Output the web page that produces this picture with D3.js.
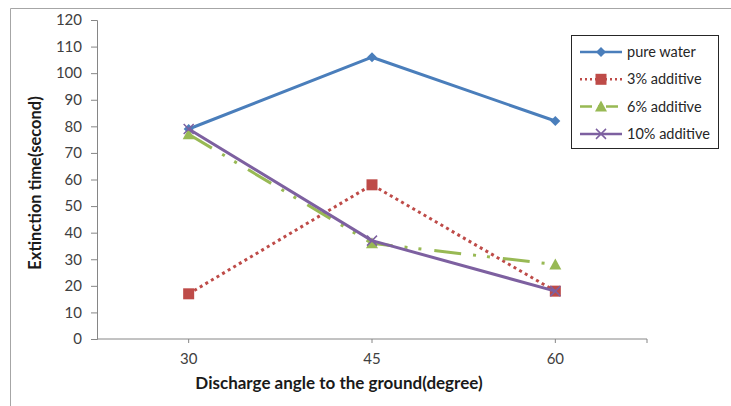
<!DOCTYPE html>
<html>
<head>
<meta charset="utf-8">
<title>Extinction time vs discharge angle</title>
<script src="https://d3js.org/d3.v7.min.js"></script>
<style>
  body { margin: 0; background: #fff; }
  svg text { font-family: Lato, "Open Sans", sans-serif; }
  .tick text { fill: #404040; font-size: 15px; }
</style>
</head>
<body>
<div id="chart"></div>
<script>
// data
const angles = ["30", "45", "60"];
const pureWater = [79, 106, 82];
const additive3 = [17, 58, 18];
const additive6 = [77, 36, 28];
const additive10 = [79, 37, 18];
const yTicks = d3.range(0, 121, 10);

const series = [
  {name: "pure water", values: pureWater, color: "#4a7ebb", dash: null, marker: "diamond"},
  {name: "3% additive", values: additive3, color: "#be4b48", dash: "3,3.5", marker: "square"},
  {name: "6% additive", values: additive6, color: "#98b954", dash: "27,12,3,11,3,13", marker: "triangle"},
  {name: "10% additive", values: additive10, color: "#7d60a0", dash: null, marker: "cross"}
];

const W = 731, H = 406;
const plot = {left: 97, right: 647, top: 20, bottom: 339};

const svg = d3.select("#chart").append("svg")
  .attr("width", W).attr("height", H);

// outer frame (only left and top edges visible)
svg.append("path")
  .attr("d", `M10.5,${H} V8.5 H${W}`)
  .attr("fill", "none").attr("stroke", "#a6a6a6").attr("stroke-width", 1);

const x = d3.scaleBand().domain(angles).range([plot.left, plot.right]);
const xc = d => x(d) + x.bandwidth() / 2;
const y = d3.scaleLinear().domain([0, 120]).range([plot.bottom, plot.top]);

// y axis
const yAxis = svg.append("g")
  .attr("transform", `translate(${plot.left},0)`)
  .call(d3.axisLeft(y).tickValues(yTicks).tickSize(6).tickPadding(9));
yAxis.selectAll(".domain, .tick line").attr("stroke", "#868686");

// x axis, ticks at category centres plus one at the end
const xg = svg.append("g").attr("transform", `translate(0,${plot.bottom})`);
xg.append("line")
  .attr("x1", plot.left).attr("x2", plot.right)
  .attr("stroke", "#868686");
const tickXs = angles.map(xc).concat([x.range()[1]]);
xg.selectAll("line.tk").data(tickXs).join("line").attr("class", "tk")
  .attr("x1", d => d).attr("x2", d => d).attr("y1", 0).attr("y2", 4)
  .attr("stroke", "#868686");
xg.selectAll("text").data(angles).join("text")
  .attr("x", d => xc(d)).attr("y", 25)
  .attr("text-anchor", "middle")
  .attr("fill", "#404040").attr("font-size", 15)
  .text(d => d);

// axis titles
svg.append("text")
  .attr("x", 339).attr("y", 389)
  .attr("text-anchor", "middle")
  .attr("font-size", 17).attr("font-weight", "bold").attr("fill", "#1a1a1a")
  .text("Discharge angle to the ground(degree)");
svg.append("text")
  .attr("transform", "translate(41,183) rotate(-90)")
  .attr("text-anchor", "middle")
  .attr("font-size", 16.5).attr("font-weight", "bold").attr("fill", "#1a1a1a")
  .text("Extinction time(second)");

function drawMarker(g, type, color) {
  if (type === "diamond") {
    g.append("path").attr("d", "M0,-5 L5,0 L0,5 L-5,0 Z").attr("fill", color);
  } else if (type === "square") {
    g.append("rect").attr("x", -5.5).attr("y", -5.5).attr("width", 11).attr("height", 11).attr("fill", color);
  } else if (type === "triangle") {
    g.append("path").attr("d", "M0,-6 L6,5 L-6,5 Z").attr("fill", color);
  } else {
    g.append("path").attr("d", "M-5,-5 L5,5 M-5,5 L5,-5")
      .attr("stroke", color).attr("stroke-width", 1.5).attr("fill", "none");
  }
}

const line = d3.line().x((d, i) => xc(angles[i])).y(d => y(d));

series.forEach(s => {
  svg.append("path")
    .datum(s.values)
    .attr("d", line)
    .attr("fill", "none")
    .attr("stroke", s.color)
    .attr("stroke-width", 3)
    .attr("stroke-linejoin", "round")
    .attr("stroke-dasharray", s.dash);
  s.values.forEach((v, i) => {
    const g = svg.append("g").attr("transform", `translate(${xc(angles[i])},${y(v)})`);
    drawMarker(g, s.marker, s.color);
  });
});

// legend
const legend = svg.append("g").attr("transform", "translate(571,35)");
legend.append("rect")
  .attr("x", 0.5).attr("y", 0.5).attr("width", 147).attr("height", 113)
  .attr("fill", "#fff").attr("stroke", "#262626").attr("stroke-width", 1);
series.forEach((s, i) => {
  const ly = 17 + i * 27.3;
  legend.append("line")
    .attr("x1", 9).attr("x2", 51).attr("y1", ly).attr("y2", ly)
    .attr("stroke", s.color).attr("stroke-width", 2.5)
    .attr("stroke-dasharray", s.dash ? (s.marker === "square" ? "2,3" : "12,6,2,6") : null);
  const g = legend.append("g").attr("transform", `translate(30,${ly})`);
  drawMarker(g, s.marker, s.color);
  legend.append("text")
    .attr("x", 56).attr("y", ly + 5)
    .attr("font-size", 14.5).attr("fill", "#262626")
    .text(s.name);
});
</script>
</body>
</html>
